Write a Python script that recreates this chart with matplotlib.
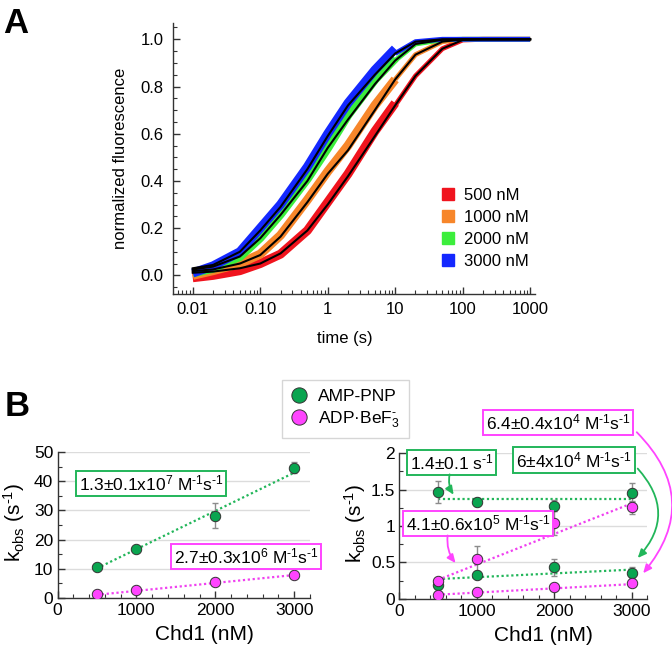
import matplotlib
matplotlib.use('Agg')
from matplotlib import pyplot as plt
from matplotlib.lines import Line2D
from matplotlib.ticker import FixedLocator, MultipleLocator

plt.rcParams['font.family'] = ['Liberation Sans', 'DejaVu Sans']
plt.rcParams['mathtext.fontset'] = 'custom'
plt.rcParams['mathtext.rm'] = 'Liberation Sans'
plt.rcParams['mathtext.it'] = 'Liberation Sans:italic'
plt.rcParams['mathtext.bf'] = 'Liberation Sans:bold'

# ---- panel A: stopped-flow traces ----
conc_labels = ['500 nM', '1000 nM', '2000 nM', '3000 nM']

t_fast = [0.01, 0.02, 0.05, 0.1, 0.2, 0.5, 1, 2, 5, 10]
fast_500 = [-0.01, 0.0, 0.02, 0.05, 0.09, 0.19, 0.31, 0.43, 0.61, 0.73]
fast_1000 = [0.0, 0.02, 0.05, 0.09, 0.17, 0.32, 0.44, 0.55, 0.72, 0.83]
fast_2000 = [0.01, 0.03, 0.08, 0.16, 0.26, 0.41, 0.54, 0.68, 0.83, 0.92]
fast_3000 = [0.01, 0.04, 0.10, 0.20, 0.30, 0.46, 0.60, 0.73, 0.87, 0.96]

t_slow = [10, 20, 50, 100, 200, 500, 1000]
slow_500 = [0.72, 0.845, 0.96, 0.997, 1.0, 1.0, 1.0]
slow_1000 = [0.83, 0.935, 0.99, 1.0, 1.0, 1.0, 1.0]
slow_2000 = [0.91, 0.98, 0.998, 1.0, 1.0, 1.0, 1.0]
slow_3000 = [0.94, 0.99, 1.0, 1.0, 1.0, 1.0, 1.0]

t_fit = [0.01, 0.02, 0.05, 0.1, 0.2, 0.5, 1, 2, 5, 10, 20, 50, 100, 200, 500, 1000]
fit_500 = [0.011, 0.016, 0.03, 0.05, 0.093, 0.19, 0.30, 0.42, 0.59, 0.72, 0.845, 0.96, 0.997, 1.0, 1.0, 1.0]
fit_1000 = [0.018, 0.025, 0.05, 0.086, 0.164, 0.31, 0.43, 0.53, 0.70, 0.83, 0.935, 0.99, 1.0, 1.0, 1.0, 1.0]
fit_2000 = [0.025, 0.037, 0.08, 0.157, 0.256, 0.40, 0.54, 0.66, 0.81, 0.91, 0.98, 0.998, 1.0, 1.0, 1.0, 1.0]
fit_3000 = [0.030, 0.044, 0.10, 0.19, 0.29, 0.45, 0.59, 0.72, 0.85, 0.94, 0.99, 1.0, 1.0, 1.0, 1.0, 1.0]

trace_colors = ['#f0141e', '#f7862a', '#3cee3c', '#1428ff']

# ---- panel B: kobs vs [Chd1] ----
chd1 = [500, 1000, 2000, 3000]
fit_x = [500, 3000]

left_amp = [10.4, 16.8, 28.2, 44.7]
left_amp_err = [1.0, 0.5, 4.2, 1.8]
left_amp_fit = [10.1, 43.0]
left_adp = [1.3, 2.6, 5.5, 7.9]
left_adp_err = [0.3, 0.3, 0.4, 0.4]
left_adp_fit = [1.0, 7.8]

right_amp_fast = [1.47, 1.33, 1.28, 1.46]
right_amp_fast_err = [0.15, 0.05, 0.08, 0.13]
right_amp_fast_fit = [1.37, 1.37]
right_amp_slow = [0.19, 0.33, 0.43, 0.36]
right_amp_slow_err = [0.03, 0.05, 0.12, 0.07]
right_amp_slow_fit = [0.27, 0.40]
right_adp_fast = [0.24, 0.54, 1.04, 1.26]
right_adp_fast_err = [0.03, 0.19, 0.17, 0.09]
right_adp_fast_fit = [0.26, 1.31]
right_adp_slow = [0.05, 0.09, 0.165, 0.21]
right_adp_slow_err = [0.01, 0.01, 0.02, 0.02]
right_adp_slow_fit = [0.055, 0.20]

green = '#0aa550'
green_line = '#22b65a'
magenta = '#ff44ff'
magenta_line = '#f040f0'
axis_col = '#333333'

W, H = 672, 654
fig = plt.figure(figsize=(W / 100, H / 100), dpi=100)


def add_ax(x0, y0, x1, y1):
    # pixel box (left, top, right, bottom) -> figure fractions
    return fig.add_axes([x0 / W, 1 - y1 / H, (x1 - x0) / W, (y1 - y0) / H])


def style_ax(ax, size):
    for s in ['top', 'right']:
        ax.spines[s].set_visible(False)
    for s in ['left', 'bottom']:
        ax.spines[s].set_color(axis_col)
        ax.spines[s].set_linewidth(1.0)
    ax.tick_params(which='both', direction='in', colors=axis_col, labelcolor='black',
                   labelsize=size)
    ax.tick_params(which='major', length=5, width=1.0)
    ax.tick_params(which='minor', length=3, width=0.8)


# ---------------- panel A ----------------
axA = add_ax(173, 23, 535, 294)
style_ax(axA, 12)
axA.set_xscale('log')

fast = [fast_500, fast_1000, fast_2000, fast_3000]
slow = [slow_500, slow_1000, slow_2000, slow_3000]
fits = [fit_500, fit_1000, fit_2000, fit_3000]
for yf, ys, c in zip(fast, slow, trace_colors):
    axA.plot(t_slow, ys, color=c, lw=3.5, solid_capstyle='butt')
    axA.plot(t_fast, yf, color=c, lw=6.5, solid_capstyle='butt')
for yfit in fits:
    axA.plot(t_fit, yfit, color='black', lw=1.5)

axA.set_xlim(0.0051, 1180)
axA.set_ylim(-0.079, 1.069)
axA.xaxis.set_major_locator(FixedLocator([0.01, 0.1, 1, 10, 100, 1000]))
axA.set_xticklabels(['0.01', '0.10', '1', '10', '100', '1000'])
axA.yaxis.set_major_locator(FixedLocator([0.0, 0.2, 0.4, 0.6, 0.8, 1.0]))
axA.set_yticklabels(['0.0', '0.2', '0.4', '0.6', '0.8', '1.0'])
axA.yaxis.set_minor_locator(MultipleLocator(0.05))
axA.tick_params(axis='x', which='major', pad=6)
axA.tick_params(axis='y', which='major', pad=7)
axA.set_xlabel('time (s)', fontsize=12)
axA.xaxis.set_label_coords(0.474, -0.135)
axA.set_ylabel('normalized fluorescence', fontsize=12)
axA.yaxis.set_label_coords(-0.125, 0.5)

handles = [Line2D([], [], ls='none', marker='s', markersize=9, color=c) for c in trace_colors]
axA.legend(handles, conc_labels, loc='upper left', bbox_to_anchor=(441 / W, 1 - 188 / H),
           bbox_transform=fig.transFigure, frameon=False, fontsize=12,
           handlelength=0.8, handletextpad=0.55, labelspacing=0.42, borderpad=0,
           borderaxespad=0)

fig.text(3 / W, 1 - 7 / H, 'A', fontsize=25, fontweight='bold', va='top', ha='left')
fig.text(5 / W, 1 - 390 / H, 'B', fontsize=25, fontweight='bold', va='top', ha='left')


# ---------------- panel B ----------------
def draw_series(ax, y, err, yfit, col, lcol):
    ax.plot(fit_x, yfit, ls=(0, (1, 1.2)), color=lcol, lw=1.6, zorder=2)
    ax.errorbar(chd1, y, yerr=err, fmt='none', ecolor='#8c8c8c', elinewidth=1,
                capsize=2.5, capthick=1, zorder=3)
    ax.plot(chd1, y, ls='none', marker='o', markersize=7.5, color=col,
            markeredgecolor='#333333', markeredgewidth=0.7, zorder=4)


def style_b(ax, ymax, ymaj, ymin):
    style_ax(ax, 12.5)
    ax.set_xlim(0, 3200)
    ax.set_ylim(0, ymax)
    ax.xaxis.set_major_locator(MultipleLocator(1000))
    ax.xaxis.set_minor_locator(MultipleLocator(200))
    ax.yaxis.set_major_locator(MultipleLocator(ymaj))
    ax.yaxis.set_minor_locator(MultipleLocator(ymin))
    ax.grid(axis='y', which='major', color='#dcdcdc', lw=1.0)
    ax.set_axisbelow(True)
    ax.tick_params(axis='x', which='major', pad=4)
    ax.tick_params(axis='y', which='major', pad=3)
    ax.set_xlabel('Chd1 (nM)', fontsize=15)
    ax.set_ylabel(r'k$_{\rm obs}$ (s$^{\text{-}1}$)', fontsize=15)


axL = add_ax(57.5, 452.3, 310, 597.7)
style_b(axL, 50, 10, 5)
draw_series(axL, left_amp, left_amp_err, left_amp_fit, green, green_line)
draw_series(axL, left_adp, left_adp_err, left_adp_fit, magenta, magenta_line)
axL.xaxis.set_label_coords(0.583, -0.185)
axL.yaxis.set_label_coords(-0.122, 0.52)


def box_text(ax, x, y, s, col):
    ax.text(x, y, s, fontsize=12.5, ha='center', va='center', clip_on=False, zorder=6,
            bbox=dict(boxstyle='square,pad=0.15', facecolor='white', edgecolor=col, lw=1.4))


inv = r'M$^{\text{-}1}$s$^{\text{-}1}$'
box_text(axL, 1188, 39.4, r'1.3±0.1x10$^{7}$ ' + inv, green_line)
box_text(axL, 2393, 14.3, r'2.7±0.3x10$^{6}$ ' + inv, magenta)

axR = add_ax(399.3, 453.3, 647, 598.7)
style_b(axR, 2, 0.5, 0.25)
axR.yaxis.set_major_locator(FixedLocator([0, 0.5, 1, 1.5, 2]))
axR.set_yticklabels(['0', '0.5', '1', '1.5', '2'])
draw_series(axR, right_amp_fast, right_amp_fast_err, right_amp_fast_fit, green, green_line)
draw_series(axR, right_amp_slow, right_amp_slow_err, right_amp_slow_fit, green, green_line)
draw_series(axR, right_adp_fast, right_adp_fast_err, right_adp_fast_fit, magenta, magenta_line)
draw_series(axR, right_adp_slow, right_adp_slow_err, right_adp_slow_fit, magenta, magenta_line)
axR.xaxis.set_label_coords(0.581, -0.19)
axR.yaxis.set_label_coords(-0.126, 0.52)

box_text(axR, 676, 1.877, r'1.4±0.1 s$^{\text{-}1}$', green_line)
box_text(axR, 2257, 1.908, r'6±4x10$^{4}$ ' + inv, green_line)
box_text(axR, 2052, 2.42, r'6.4±0.4x10$^{4}$ ' + inv, magenta)
box_text(axR, 1017, 1.04, r'4.1±0.6x10$^{5}$ ' + inv, magenta)


def arrow(ax, xy0, xy1, col, rad):
    ax.annotate('', xy=xy1, xytext=xy0, annotation_clip=False, zorder=7,
                arrowprops=dict(arrowstyle='-|>,head_length=0.5,head_width=0.22', color=col,
                                lw=1.3, shrinkA=0, shrinkB=0,
                                connectionstyle='arc3,rad=%s' % rad))


arrow(axR, (650, 1.71), (702, 1.43), green_line, 0.2)
arrow(axR, (3080, 1.79), (3080, 0.56), green_line, -0.45)
arrow(axR, (3068, 2.29), (3150, 0.35), magenta, -0.45)
arrow(axR, (624, 0.87), (727, 0.49), magenta, 0.2)

leg_handles = [
    Line2D([], [], ls='none', marker='o', markersize=11, color=green,
           markeredgecolor='#333333', markeredgewidth=0.7),
    Line2D([], [], ls='none', marker='o', markersize=11, color=magenta,
           markeredgecolor='#333333', markeredgewidth=0.7),
]
leg = fig.legend(leg_handles, ['AMP-PNP', r'ADP·BeF$_3^{\text{-}}$'], loc='upper left',
                 bbox_to_anchor=(281.7 / W, 1 - 380 / H), fontsize=12.5, frameon=True,
                 fancybox=False, edgecolor='#cccccc', handlelength=1.0, handletextpad=0.6,
                 labelspacing=0.3, borderpad=0.5, borderaxespad=0)
leg.get_frame().set_linewidth(1.0)

fig.savefig('out.png', dpi=100)
